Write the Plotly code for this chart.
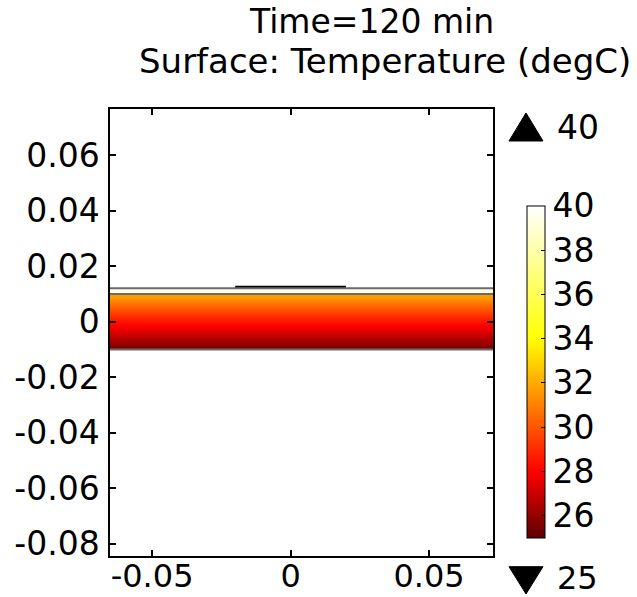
import plotly.graph_objects as go

# ---- data ----
domain_x_edges = [-0.1, 0.0, 0.1]
core_y_edges = [-0.01, -0.0075, -0.005, -0.0025, 0.0, 0.0025, 0.005, 0.0075, 0.01]
core_temps = [25.7, 26.5, 27.3, 28.0, 28.8, 29.7, 30.6, 31.6]   # degC per row (bottom -> top)
layer_y_edges = [0.01, 0.012]
layer_temps = [39.6]
heater_x = [-0.02, 0.02]
heater_y = [0.0125, 0.0125]
boundary_y = [-0.01, 0.01, 0.012]
t_min, t_max = 25, 40
x_ticks = [-0.05, 0, 0.05]
x_tick_text = ["-0.05", "0", "0.05"]
y_ticks = [0.06, 0.04, 0.02, 0, -0.02, -0.04, -0.06, -0.08]
y_tick_text = ["0.06", "0.04", "0.02", "0", "-0.02", "-0.04", "-0.06", "-0.08"]
cbar_ticks = [26, 28, 30, 32, 34, 36, 38, 40]

colorscale = [[0.0, "#5e0000"], [0.2, "#ff0000"], [0.6, "#ffff00"], [1.0, "#ffffff"]]

FONT = "DejaVu Sans"

fig = go.Figure()
fig.add_trace(go.Heatmap(
    x=domain_x_edges, y=core_y_edges,
    z=[[t, t] for t in core_temps],
    coloraxis="coloraxis", zsmooth="best", hoverinfo="skip"))
fig.add_trace(go.Heatmap(
    x=domain_x_edges, y=layer_y_edges,
    z=[[t, t] for t in layer_temps],
    coloraxis="coloraxis", hoverinfo="skip"))
fig.add_trace(go.Scatter(x=heater_x, y=heater_y, mode="lines",
                         line=dict(color="black", width=2.5), hoverinfo="skip"))

shapes = []
for by in boundary_y:
    shapes.append(dict(type="line", xref="x", yref="y", x0=domain_x_edges[0], x1=domain_x_edges[-1],
                       y0=by, y1=by, line=dict(color="#6a6a6a", width=2), layer="above"))
# max / min markers
shapes.append(dict(type="path", xref="paper", yref="paper",
                   path="M 1.0418 0.9284 L 1.1305 0.9284 L 1.0862 0.9911 Z",
                   fillcolor="black", line=dict(color="black", width=1)))
shapes.append(dict(type="path", xref="paper", yref="paper",
                   path="M 1.0418 -0.0239 L 1.1305 -0.0239 L 1.0862 -0.085 Z",
                   fillcolor="black", line=dict(color="black", width=1)))

annotations = [
    dict(text="Time=120 min", xref="paper", yref="paper", x=0.683, y=1.195,
         xanchor="center", yanchor="middle", showarrow=False,
         font=dict(family=FONT, size=33, color="black")),
    dict(text="Surface: Temperature (degC)", xref="paper", yref="paper", x=0.718, y=1.108,
         xanchor="center", yanchor="middle", showarrow=False,
         font=dict(family=FONT, size=34, color="black")),
    dict(text=str(t_max), xref="paper", yref="paper", x=1.1619, y=0.9597,
         xanchor="left", yanchor="middle", showarrow=False,
         font=dict(family=FONT, size=33, color="black")),
    dict(text=str(t_min), xref="paper", yref="paper", x=1.1619, y=-0.049,
         xanchor="left", yanchor="middle", showarrow=False,
         font=dict(family=FONT, size=32, color="black")),
]

axis_common = dict(showline=True, linecolor="black", linewidth=1.5, mirror="ticks",
                   ticks="inside", ticklen=6, tickcolor="black", tickwidth=1.5,
                   showgrid=False, zeroline=False, automargin=False)

fig.update_layout(
    width=637, height=597,
    margin=dict(l=110, r=144, t=109, b=41, autoexpand=False),
    paper_bgcolor="white", plot_bgcolor="white",
    showlegend=False,
    xaxis=dict(range=[-0.0652, 0.0731], tickvals=x_ticks, ticktext=x_tick_text,
               ticklabelstandoff=-9, tickfont=dict(family=FONT, size=32, color="black"),
               **axis_common),
    yaxis=dict(range=[-0.0844, 0.0766], tickvals=y_ticks, ticktext=y_tick_text,
               ticklabelstandoff=2, tickfont=dict(family=FONT, size=33, color="black"),
               **axis_common),
    coloraxis=dict(cmin=t_min, cmax=t_max, colorscale=colorscale,
                   colorbar=dict(x=1.0888, xanchor="left", xpad=0,
                                 y=0.412, yanchor="middle", ypad=0,
                                 lenmode="pixels", len=332,
                                 thicknessmode="pixels", thickness=18,
                                 outlinecolor="black", outlinewidth=1,
                                 tickvals=cbar_ticks, ticks="inside", ticklen=4,
                                 tickcolor="black",
                                 tickfont=dict(family=FONT, size=33, color="black"))),
    shapes=shapes, annotations=annotations,
)

fig.write_html("out.html")
